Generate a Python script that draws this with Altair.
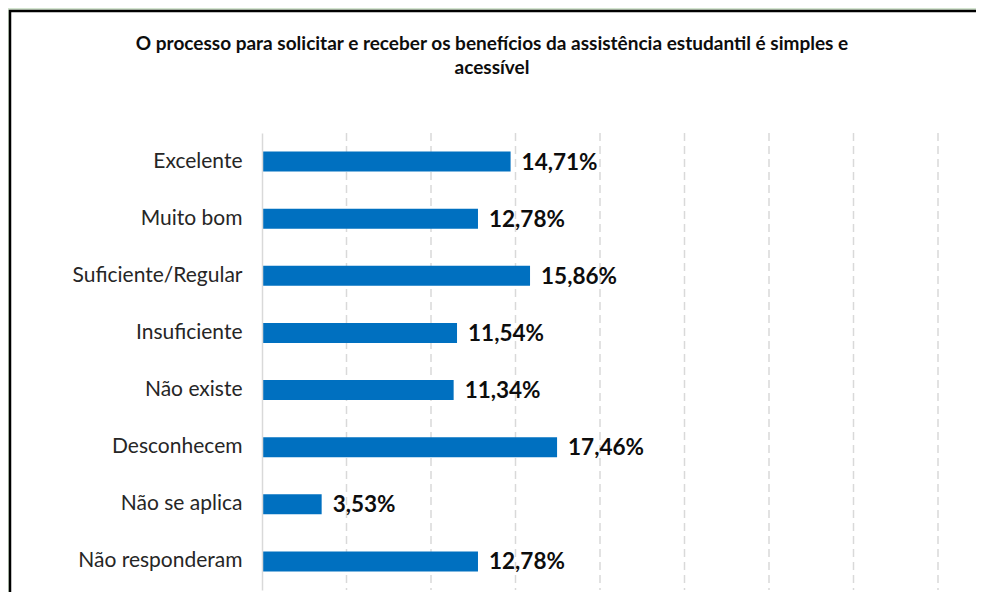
import altair as alt
import pandas as pd

categories = ["Excelente", "Muito bom", "Suficiente/Regular", "Insuficiente",
              "Não existe", "Desconhecem", "Não se aplica", "Não responderam"]
values = [14.71, 12.78, 15.86, 11.54, 11.34, 17.46, 3.53, 12.78]
grid_ticks = [5, 10, 15, 20, 25, 30, 35, 40]
title_lines = ["O processo para solicitar e receber os benefícios da assistência estudantil é simples e",
               "acessível"]

df = pd.DataFrame({
    "cat": categories,
    "val": values,
    "label": [f"{v:.2f}".replace(".", ",") + "%" for v in values],
})
grid_df = pd.DataFrame({"t": grid_ticks})
title_df = pd.DataFrame({"title": ["\n".join(title_lines)]})

FONT = "Lato"
W, H = 676, 457

xscale = alt.Scale(domain=[0, 40], nice=False, zero=True)
yscale = alt.Scale(domain=categories, paddingInner=0.65, paddingOuter=0.325)

frame = alt.Chart(pd.DataFrame({"a": [0]})).mark_rect(
    fill="white", stroke="black", strokeWidth=2.5
).encode(
    x=alt.value(-252), x2=alt.value(740),
    y=alt.value(-122), y2=alt.value(520),
)

title = alt.Chart(title_df).mark_text(
    align="center", baseline="middle", lineBreak="\n", lineHeight=24,
    font=FONT, fontSize=19, fontWeight="bold", color="#0d0d0d"
).encode(
    x=alt.value(230), y=alt.value(-89), text="title:N",
)

grid = alt.Chart(grid_df).mark_rule(
    color="#d9d9d9", strokeWidth=1.5, strokeDash=[8, 5]
).encode(
    x=alt.X("t:Q", scale=xscale, axis=None),
    y=alt.value(0), y2=alt.value(H),
)

bars = alt.Chart(df).mark_bar(color="#0070C0").encode(
    x=alt.X("val:Q", scale=xscale, axis=None),
    y=alt.Y("cat:N", scale=yscale, sort=categories, title=None,
            axis=alt.Axis(labelFont=FONT, labelFontSize=21, labelColor="#262626",
                          labelPadding=20, ticks=False, domain=True,
                          domainColor="#d9d9d9", domainWidth=1.5,
                          grid=False, zindex=1)),
)

texts = alt.Chart(df).mark_text(
    align="left", baseline="middle", dx=11, dy=1,
    font=FONT, fontSize=22.5, fontWeight="bold", color="#0d0d0d"
).encode(
    x=alt.X("val:Q", scale=xscale, axis=None),
    y=alt.Y("cat:N", scale=yscale, sort=categories),
    text="label:N",
)

chart = alt.layer(frame, title, grid, bars, texts).properties(
    width=W, height=H,
    autosize=alt.AutoSizeParams(type="none"),
    padding={"left": 254, "top": 125, "right": 38, "bottom": 2},
    background="#d3e4cf",
).configure_view(stroke=None)

chart.save("out.html", embed_options={"renderer": "svg", "actions": False})
